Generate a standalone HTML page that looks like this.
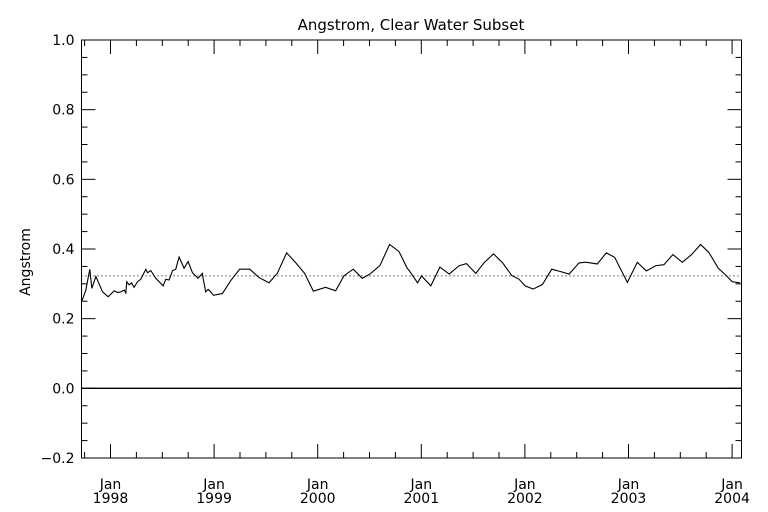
<!DOCTYPE html>
<html><head><meta charset="utf-8"><style>
html,body{margin:0;padding:0;background:#fff}
svg{display:block;font-family:"DejaVu Sans","Liberation Sans",sans-serif}
</style></head><body>
<svg id="chart" width="768" height="512" viewBox="0 0 768 512" xmlns="http://www.w3.org/2000/svg">
<rect width="768" height="512" fill="#fff"/>
<text x="411" y="30" font-size="15" text-anchor="middle">Angstrom, Clear Water Subset</text>
<text x="30" y="262" font-size="14" text-anchor="middle" transform="rotate(-90 30 262)">Angstrom</text>
<g id="axes"></g>
<g id="marks"></g>
</svg>
<script>
const dates = [1997.72,1997.762,1997.80,1997.82,1997.859,1997.923,1997.978,1998.035,1998.068,1998.100,1998.132,1998.148,1998.157,1998.18,1998.203,1998.228,1998.26,1998.292,1998.341,1998.357,1998.389,1998.437,1998.508,1998.534,1998.566,1998.598,1998.63,1998.662,1998.71,1998.749,1998.791,1998.845,1998.887,1998.897,1998.919,1998.942,1998.968,1998.993,1999.08,1999.16,1999.247,1999.344,1999.434,1999.53,1999.61,1999.70,1999.787,1999.874,1999.958,2000.076,2000.173,2000.253,2000.343,2000.43,2000.504,2000.60,2000.694,2000.784,2000.864,2000.883,2000.964,2001.002,2001.092,2001.179,2001.269,2001.365,2001.436,2001.526,2001.607,2001.697,2001.783,2001.873,2001.944,2002.002,2002.079,2002.169,2002.259,2002.346,2002.426,2002.523,2002.587,2002.699,2002.786,2002.867,2002.989,2003.085,2003.172,2003.262,2003.342,2003.429,2003.519,2003.609,2003.696,2003.776,2003.866,2003.943,2004.001,2004.075];
const values = [0.248,0.282,0.342,0.287,0.321,0.277,0.263,0.280,0.275,0.277,0.282,0.274,0.306,0.297,0.303,0.290,0.306,0.313,0.342,0.332,0.338,0.316,0.294,0.313,0.311,0.338,0.342,0.377,0.345,0.364,0.332,0.316,0.330,0.311,0.277,0.284,0.277,0.267,0.272,0.309,0.342,0.342,0.318,0.303,0.330,0.389,0.361,0.330,0.279,0.290,0.280,0.323,0.342,0.316,0.328,0.352,0.413,0.393,0.345,0.338,0.303,0.323,0.294,0.348,0.328,0.352,0.358,0.330,0.361,0.386,0.361,0.324,0.313,0.294,0.285,0.298,0.342,0.335,0.328,0.360,0.362,0.357,0.389,0.376,0.304,0.362,0.337,0.352,0.355,0.384,0.362,0.384,0.413,0.390,0.345,0.324,0.306,0.303];
const meanValue = [0.323];
const yTicks = [-0.2,0.0,0.2,0.4,0.6,0.8,1.0];
const yTickLabels = ["\u22120.2","0.0","0.2","0.4","0.6","0.8","1.0"];
const xYears = [1998,1999,2000,2001,2002,2003,2004];
const xYearLabels = ["1998","1999","2000","2001","2002","2003","2004"];

const L=81.5,R=741.5,T=40,B=458;
const X0=1997.73,X1=2004.09;
function xs(t){return 110.5+(t-1998)*103.6;}
function ys(v){return B-(v-(-0.2))/(1.2)*(B-T);}
const NS="http://www.w3.org/2000/svg";
function mk(tag,attrs,parent){const e=document.createElementNS(NS,tag);for(const k in attrs)e.setAttribute(k,attrs[k]);parent.appendChild(e);return e;}
const axes=document.getElementById('axes'), marks=document.getElementById('marks');

const frame=mk('rect',{x:L,y:T,width:R-L,height:B-T,fill:'none',stroke:'#000','stroke-width':1},axes);



// y ticks
for(let i=0;i<yTicks.length;i++){
  const y=ys(yTicks[i]);
  const t1=mk('line',{x1:L,x2:L+14,y1:y,y2:y,stroke:'#000'},axes);
  
  
  const t2=mk('line',{x1:R,x2:R-14,y1:y,y2:y,stroke:'#000'},axes);
  
  
  const lb=mk('text',{x:L-7,y:y+5,'font-size':14,'text-anchor':'end'},axes);
  lb.textContent=yTickLabels[i];
  
  
  if(i<yTicks.length-1){
    for(let k=1;k<4;k++){
      const ym=ys(yTicks[i]+0.05*k);
      const m1=mk('line',{x1:L,x2:L+6,y1:ym,y2:ym,stroke:'#000'},axes);
      
      
      const m2=mk('line',{x1:R,x2:R-6,y1:ym,y2:ym,stroke:'#000'},axes);
      
      
    }
  }
}
// x ticks (quarterly minors)
for(let q=1997.75;q<=2004.01;q+=0.25){
  const x=xs(q); if(x<=L+1||x>=R-1)continue;
  const major=Math.abs(q-Math.round(q))<0.01;
  const len=major?14:6;
  const a=mk('line',{x1:x,x2:x,y1:B,y2:B-len,stroke:'#000'},axes);
  
  
  const b=mk('line',{x1:x,x2:x,y1:T,y2:T+len,stroke:'#000'},axes);
  
  
}
for(let i=0;i<xYears.length;i++){
  const x=xs(xYears[i]);
  const j=mk('text',{x:x,y:489,'font-size':14,'text-anchor':'middle'},axes);
  j.textContent='Jan';
  
  
  const yl=mk('text',{x:x,y:503,'font-size':14,'text-anchor':'middle'},axes);
  yl.textContent=xYearLabels[i];
  
  
}
// zero line
const z=mk('line',{x1:L,x2:R,y1:ys(0),y2:ys(0),stroke:'#000','stroke-width':1.3},marks);


// mean dotted line
const m=mk('line',{x1:L,x2:R,y1:ys(meanValue[0]),y2:ys(meanValue[0]),stroke:'#000','stroke-dasharray':'1 3'},marks);


// series
let d='';
for(let i=0;i<dates.length;i++){d+=(i?'L':'M')+xs(dates[i]).toFixed(2)+' '+ys(values[i]).toFixed(2);}
const p=mk('path',{d:d,fill:'none',stroke:'#000','stroke-width':1.1},marks);


</script>
</body></html>
